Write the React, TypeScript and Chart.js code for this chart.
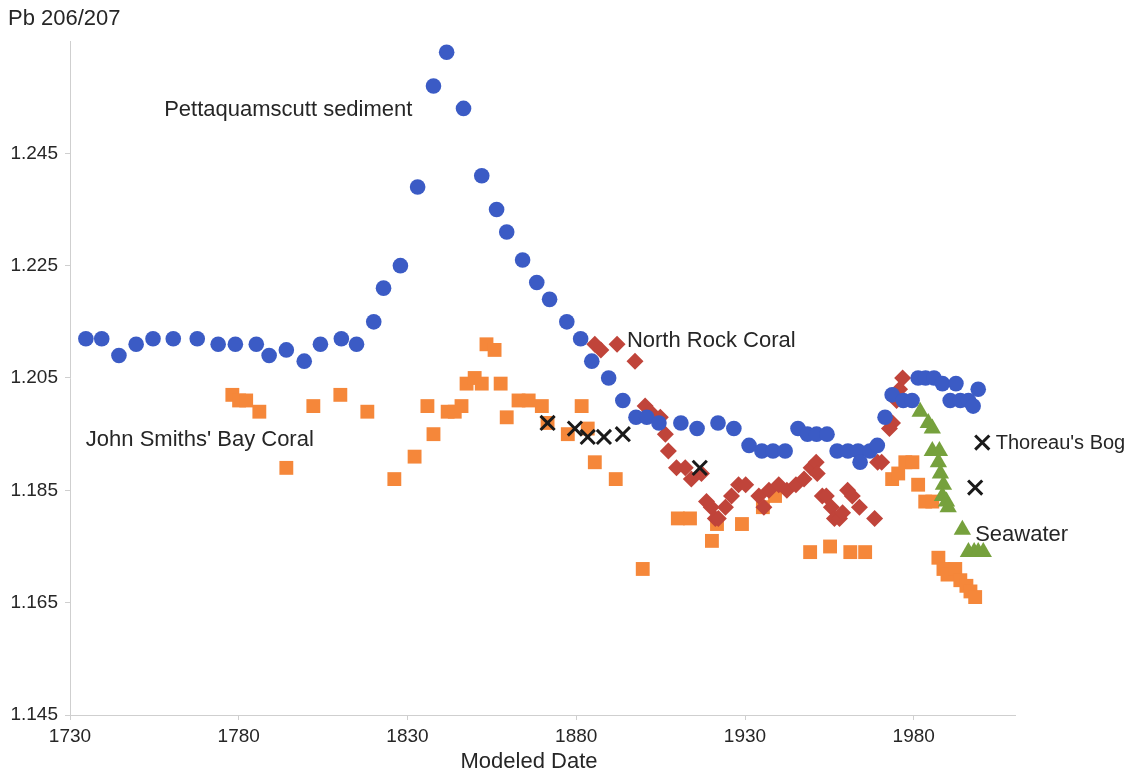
import React, { useEffect, useRef } from "react";
import { Chart, registerables } from "chart.js";

Chart.register(...registerables);

// Axis ticks
const xTickValues = [1730, 1780, 1830, 1880, 1930, 1980];
const yTickValues = [1.145, 1.165, 1.185, 1.205, 1.225, 1.245];

// Pettaquamscutt sediment
const sedimentYears = [
  1734.7, 1739.4, 1744.5, 1749.6, 1754.6, 1760.6, 1767.7, 1773.9, 1779, 1785.2,
  1789, 1794.1, 1799.4, 1804.2, 1810.4, 1814.9, 1820, 1822.9, 1827.9, 1833,
  1837.7, 1841.6, 1846.6, 1852, 1856.4, 1859.4, 1864.1, 1868.3, 1872.1, 1877.2,
  1881.3, 1884.6, 1889.6, 1893.8, 1897.7, 1900.9, 1904.5, 1911, 1915.8, 1922,
  1926.7, 1931.2, 1935, 1938.3, 1941.9, 1945.7, 1948.5, 1951.2, 1954.3, 1957.3,
  1960.5, 1963.5, 1964.1, 1967, 1969.2, 1971.5, 1973.6, 1976.9, 1979.5, 1981.3,
  1983.5, 1986, 1988.5, 1990.8, 1992.5, 1993.8, 1996.2, 1997.6, 1999.1,
];
const sedimentRatio = [
  1.212, 1.212, 1.209, 1.211, 1.212, 1.212, 1.212, 1.211, 1.211, 1.211,
  1.209, 1.21, 1.208, 1.211, 1.212, 1.211, 1.215, 1.221, 1.225, 1.239,
  1.257, 1.263, 1.253, 1.241, 1.235, 1.231, 1.226, 1.222, 1.219, 1.215,
  1.212, 1.208, 1.205, 1.201, 1.198, 1.198, 1.197, 1.197, 1.196, 1.197,
  1.196, 1.193, 1.192, 1.192, 1.192, 1.196, 1.195, 1.195, 1.195, 1.192,
  1.192, 1.192, 1.19, 1.192, 1.193, 1.198, 1.202, 1.201, 1.201, 1.205,
  1.205, 1.205, 1.204, 1.201, 1.204, 1.201, 1.201, 1.2, 1.203,
];

// John Smiths' Bay Coral
const jsbYears = [
  1778.1, 1780.1, 1782.2, 1786.1, 1794.1, 1802.1, 1810.1, 1818.1, 1826.1, 1832.1,
  1835.9, 1837.7, 1841.9, 1844, 1846, 1847.5, 1849.9, 1852, 1853.4, 1855.8,
  1857.6, 1859.4, 1862.9, 1865.9, 1869.8, 1871.5, 1877.5, 1881.6, 1883.4, 1885.5,
  1891.7, 1899.7, 1910.1, 1913.7, 1920.2, 1921.7, 1929.1, 1935.3, 1938.9, 1949.3,
  1955.2, 1961.2, 1965.6, 1973.6, 1975.4, 1977.5, 1979.6, 1981.3, 1983.4, 1985.5,
  1987.3, 1988.8, 1990, 1992.3, 1993.8, 1995.6, 1996.8, 1998.2,
];
const jsbRatio = [
  1.202, 1.201, 1.201, 1.199, 1.189, 1.2, 1.202, 1.199, 1.187, 1.191,
  1.2, 1.195, 1.199, 1.199, 1.2, 1.204, 1.205, 1.204, 1.211, 1.21,
  1.204, 1.198, 1.201, 1.201, 1.2, 1.197, 1.195, 1.2, 1.196, 1.19,
  1.187, 1.171, 1.18, 1.18, 1.176, 1.179, 1.179, 1.182, 1.184, 1.174,
  1.175, 1.174, 1.174, 1.187, 1.188, 1.19, 1.19, 1.186, 1.183, 1.183,
  1.173, 1.171, 1.17, 1.171, 1.169, 1.168, 1.167, 1.166,
];

// North Rock Coral
const northRockYears = [
  1885.5, 1887.3, 1892.1, 1897.4, 1900.4, 1901.9, 1904.9, 1906.4, 1907.3, 1909.7,
  1912.3, 1914.1, 1917.1, 1918.6, 1920, 1921.2, 1922.1, 1924.2, 1926, 1928.1,
  1930.2, 1934.1, 1935.6, 1937.1, 1940, 1942.4, 1945.1, 1947.5, 1949.6, 1951.1,
  1951.4, 1952.9, 1954.1, 1955.6, 1956.5, 1958, 1958.9, 1960.4, 1961.8, 1963.9,
  1968.4, 1969.3, 1970.5, 1972.8, 1973.7, 1974.9, 1975.8, 1976.7,
];
const northRockRatio = [
  1.211, 1.21, 1.211, 1.208, 1.2, 1.199, 1.198, 1.195, 1.192, 1.189,
  1.189, 1.187, 1.188, 1.183, 1.182, 1.18, 1.18, 1.182, 1.184, 1.186,
  1.186, 1.184, 1.182, 1.185, 1.186, 1.185, 1.186, 1.187, 1.189, 1.19,
  1.188, 1.184, 1.184, 1.182, 1.18, 1.18, 1.181, 1.185, 1.184, 1.182,
  1.18, 1.19, 1.19, 1.196, 1.197, 1.201, 1.203, 1.205,
];

// Seawater
const seawaterYears = [
  1981.9, 1984.3, 1985.5, 1985.5, 1987.6, 1987.3, 1987.9, 1988.8, 1988.5, 1989.7,
  1990.2, 1994.4, 1996.2, 1997.9, 1999.1, 2000.6,
];
const seawaterRatio = [
  1.199, 1.197, 1.196, 1.192, 1.192, 1.19, 1.188, 1.186, 1.184, 1.183,
  1.182, 1.178, 1.174, 1.174, 1.174, 1.174,
];

// Thoreau's Bog
const bogYears = [1871.5, 1879.6, 1883.4, 1888.2, 1893.8, 1916.6, 2000.3, 1998.2];
const bogRatio = [1.197, 1.196, 1.1945, 1.1945, 1.195, 1.189, 1.1935, 1.1855];

// Series labels placed in data coordinates (left edge, vertical centre)
const labelTexts = [
  "Pettaquamscutt sediment",
  "North Rock Coral",
  "John Smiths' Bay Coral",
  "Thoreau's Bog",
  "Seawater",
];
const labelYears = [1757.9, 1895, 1734.7, 2004.3, 1998.2];
const labelRatios = [1.2527, 1.2116, 1.194, 1.1934, 1.177];
const labelSizes = [22, 22, 22, 20, 22];

const yAxisTitle = "Pb 206/207";
const xAxisTitle = "Modeled Date";

const FONT = "'Liberation Sans', Arial, sans-serif";
const TEXT_COLOR = "#262626";
const AXIS_COLOR = "#cfcfcf";

const zip = (xs: number[], ys: number[]) => xs.map((x, i) => ({ x, y: ys[i] }));

const textPlugin = {
  id: "seriesText",
  afterDraw(chart: any) {
    const { ctx, scales, chartArea } = chart;
    const xs = scales.x;
    const ys = scales.y;
    ctx.save();
    ctx.fillStyle = TEXT_COLOR;
    ctx.textAlign = "left";
    ctx.textBaseline = "middle";
    labelTexts.forEach((t, i) => {
      ctx.font = `${labelSizes[i]}px ${FONT}`;
      ctx.fillText(t, xs.getPixelForValue(labelYears[i]), ys.getPixelForValue(labelRatios[i]));
    });
    ctx.font = `22px ${FONT}`;
    ctx.fillText(yAxisTitle, 8, 19);
    ctx.textAlign = "center";
    ctx.fillText(xAxisTitle, chartArea.left + 459, 762);
    ctx.restore();
  },
};

export default function App() {
  const canvasRef = useRef<HTMLCanvasElement | null>(null);

  useEffect(() => {
    if (!canvasRef.current) return;
    const chart = new Chart(canvasRef.current, {
      type: "scatter",
      data: {
        datasets: [
          {
            label: "Thoreau's Bog",
            data: zip(bogYears, bogRatio),
            pointStyle: "crossRot",
            pointRadius: 10,
            borderColor: "#1a1a1a",
            backgroundColor: "#1a1a1a",
            borderWidth: 3,
          },
          {
            label: "Seawater",
            data: zip(seawaterYears, seawaterRatio),
            pointStyle: "triangle",
            pointRadius: 10,
            backgroundColor: "#76a13d",
            borderColor: "#76a13d",
            borderWidth: 0,
          },
          {
            label: "Pettaquamscutt sediment",
            data: zip(sedimentYears, sedimentRatio),
            pointStyle: "circle",
            pointRadius: 7.8,
            backgroundColor: "#3b5bc5",
            borderColor: "#3b5bc5",
            borderWidth: 0,
          },
          {
            label: "North Rock Coral",
            data: zip(northRockYears, northRockRatio),
            pointStyle: "rectRot",
            pointRadius: 8.5,
            backgroundColor: "#c0443a",
            borderColor: "#c0443a",
            borderWidth: 0,
          },
          {
            label: "John Smiths' Bay Coral",
            data: zip(jsbYears, jsbRatio),
            pointStyle: "rect",
            pointRadius: 9.8,
            backgroundColor: "#f5873a",
            borderColor: "#f5873a",
            borderWidth: 0,
          },
        ],
      },
      options: {
        animation: false,
        responsive: false,
        events: [],
        layout: { padding: { top: 41, right: 124, left: 0, bottom: 0 } },
        plugins: {
          legend: { display: false },
          tooltip: { enabled: false },
          title: { display: false },
        },
        scales: {
          x: {
            type: "linear",
            min: 1730,
            max: 2010,
            afterBuildTicks: (s: any) => {
              s.ticks = xTickValues.map((v) => ({ value: v }));
            },
            afterFit: (s: any) => {
              s.height = 56;
            },
            ticks: {
              color: TEXT_COLOR,
              font: { family: FONT, size: 19 },
              padding: 5,
              maxRotation: 0,
              callback: (v: any) => String(v),
            },
            grid: { drawOnChartArea: false, tickLength: 5, color: AXIS_COLOR },
            border: { color: AXIS_COLOR, width: 1 },
          },
          y: {
            type: "linear",
            min: 1.145,
            max: 1.265,
            afterBuildTicks: (s: any) => {
              s.ticks = yTickValues.map((v) => ({ value: v }));
            },
            afterFit: (s: any) => {
              s.width = 70;
            },
            ticks: {
              color: TEXT_COLOR,
              font: { family: FONT, size: 19 },
              padding: 7,
              callback: (v: any) => Number(v).toFixed(3),
            },
            grid: { drawOnChartArea: false, tickLength: 5, color: AXIS_COLOR },
            border: { color: AXIS_COLOR, width: 1 },
          },
        },
      },
      plugins: [textPlugin],
    });
    return () => chart.destroy();
  }, []);

  return (
    <div style={{ position: "absolute", left: 0, top: 0, width: 1139, height: 771, background: "#fff" }}>
      <canvas ref={canvasRef} width={1139} height={771} />
    </div>
  );
}
